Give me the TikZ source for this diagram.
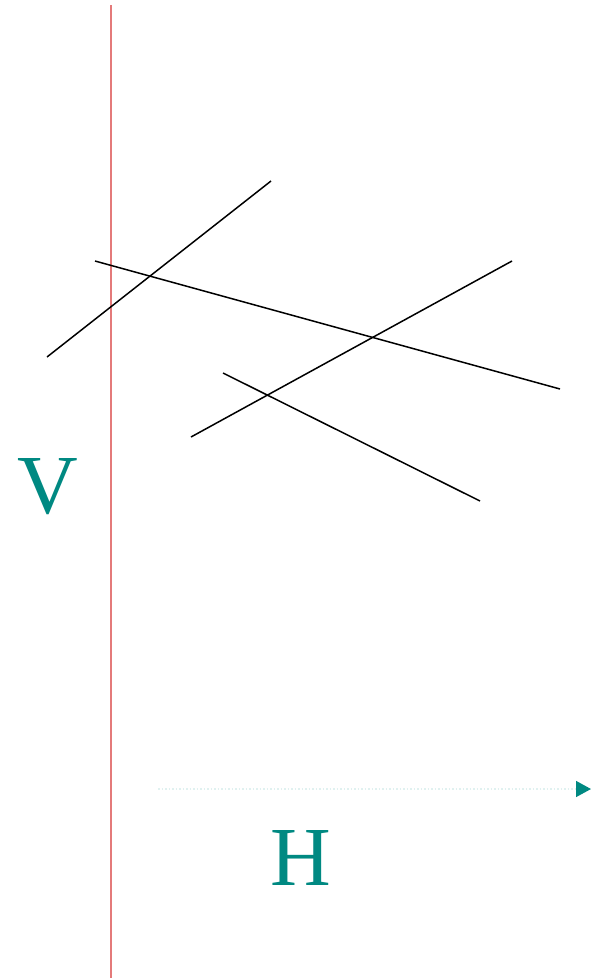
\documentclass[tikz,border=0pt]{standalone}
\usepackage{fontspec}
\setmainfont{Liberation Serif}
\usetikzlibrary{arrows.meta}
\definecolor{lbl}{RGB}{0,137,130}
\definecolor{axisred}{RGB}{228,122,122}
\begin{document}
\begin{tikzpicture}[x=1pt,y=-1pt,seg/.style={line width=1.5pt,black},lab/.style={text=lbl,font=\fontsize{84}{84}\selectfont,inner sep=0pt}]
\useasboundingbox (0,0) rectangle (601,978);
\coordinate (vtop) at (110.5,5);\coordinate (vbot) at (110.5,978);
\draw[axisred,line width=2pt] (vtop) -- (vbot);
\foreach \n/\a/\b in {1/{47,357}/{271,181},2/{95,261}/{560,389},3/{191,437}/{512,261},4/{223,373}/{480,501}}{\coordinate (s\n a) at (\a);\coordinate (s\n b) at (\b);\draw[seg] (s\n a) -- (s\n b);}
\node[lab] (V) at (48,487){V};
\coordinate (hstart) at (158,789);\coordinate (hend) at (591,789);
\draw[lbl!12,line width=1.5pt,dotted,-{Triangle[length=15pt,width=16pt,color=lbl]}] (hstart) -- (hend);
\node[lab] (H) at (301,858){H};
\end{tikzpicture}
\end{document}
